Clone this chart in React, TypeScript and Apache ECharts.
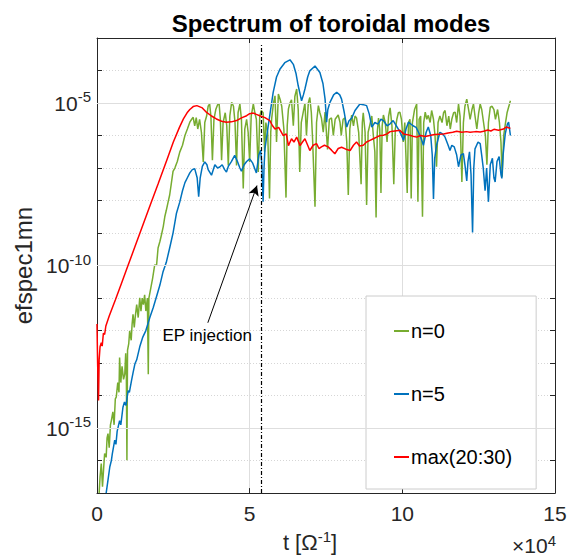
import React, { useEffect, useRef } from "react";
import * as echarts from "echarts";

const FONT = "'Liberation Sans', Arial, Helvetica, sans-serif";

// t in units of 1e4 [Omega^-1], values are log10(efspec1mn)
const seriesNames = ["n=0", "n=5", "max(20:30)"];
const seriesColors = ["#77AC30", "#0072BD", "#FF0000"];
const xTicks = [0, 5, 10, 15];
const yMajorExponents = [-5, -10, -15];
const injectionTime = 5.38;

const n0Points: [number, number][] = [
  [0.07,-17.0],[0.1,-16.5],[0.14,-16.09],[0.18,-16.8],[0.22,-16.2],[0.25,-15.78],[0.3,-15.9],[0.33,-15.3],[0.36,-15.17],[0.4,-15.6],
  [0.44,-14.9],[0.47,-14.77],[0.52,-14.5],[0.56,-14.9],[0.6,-14.1],[0.63,-14.05],[0.68,-13.6],[0.72,-13.9],[0.74,-12.83],[0.78,-13.6],
  [0.82,-13.1],[0.87,-13.5],[0.91,-13.34],[0.94,-12.7],[0.96,-13.2],[0.98,-15.99],[1.0,-12.6],[1.04,-12.4],[1.07,-12.01],[1.12,-12.3],
  [1.15,-11.8],[1.18,-11.5],[1.22,-11.9],[1.25,-11.6],[1.3,-11.2],[1.35,-11.6],[1.4,-10.99],[1.44,-11.4],[1.48,-11.0],[1.52,-11.2],
  [1.56,-10.9],[1.6,-11.4],[1.65,-11.0],[1.68,-13.34],[1.7,-11.0],[1.76,-10.7],[1.82,-10.4],[1.89,-9.98],[1.95,-10.0],[2.0,-9.46],
  [2.06,-9.26],[2.11,-9.06],[2.17,-8.8],[2.22,-8.5],[2.27,-8.3],[2.33,-8.04],[2.38,-7.83],[2.43,-7.5],[2.49,-7.1],[2.55,-7.0],
  [2.63,-6.8],[2.71,-6.51],[2.8,-6.3],[2.88,-6.0],[2.96,-5.8],[3.04,-5.59],[3.1,-5.5],[3.15,-5.44],[3.2,-5.7],[3.25,-5.45],
  [3.3,-5.8],[3.36,-5.5],[3.42,-5.9],[3.48,-6.81],[3.53,-5.6],[3.59,-5.4],[3.64,-5.1],[3.69,-5.03],[3.73,-5.4],[3.78,-6.76],
  [3.83,-5.5],[3.89,-5.2],[3.95,-5.05],[4.0,-5.03],[4.04,-5.5],[4.08,-6.76],[4.13,-5.6],[4.2,-5.3],[4.25,-5.7],[4.3,-6.92],
  [4.35,-5.4],[4.41,-4.98],[4.47,-5.1],[4.52,-5.6],[4.57,-6.92],[4.62,-5.3],[4.68,-5.03],[4.73,-5.5],[4.79,-7.63],[4.84,-5.8],
  [4.9,-5.5],[4.95,-5.9],[5.0,-6.81],[5.05,-5.4],[5.12,-5.03],[5.17,-5.3],[5.22,-5.5],[5.28,-7.12],[5.33,-5.4],[5.38,-5.23],
  [5.44,-5.3],[5.49,-6.5],[5.53,-5.6],[5.59,-5.9],[5.65,-7.94],[5.69,-5.9],[5.72,-5.49],[5.78,-5.0],[5.83,-4.78],[5.88,-6.2],
  [5.94,-4.72],[6.0,-4.9],[6.05,-5.1],[6.12,-5.8],[6.19,-7.91],[6.23,-5.7],[6.27,-5.18],[6.32,-5.0],[6.37,-4.9],[6.43,-5.7],
  [6.48,-4.8],[6.54,-4.57],[6.59,-5.2],[6.64,-7.12],[6.69,-5.6],[6.75,-5.3],[6.81,-5.0],[6.86,-6.0],[6.92,-5.0],[6.97,-4.83],
  [7.02,-5.3],[7.06,-6.1],[7.14,-8.19],[7.19,-5.6],[7.25,-5.08],[7.3,-5.3],[7.35,-5.46],[7.41,-5.9],[7.47,-5.28],[7.55,-6.43],
  [7.61,-5.5],[7.68,-5.46],[7.74,-6.0],[7.8,-5.5],[7.9,-5.37],[7.96,-5.6],[8.0,-6.0],[8.06,-5.5],[8.12,-5.46],[8.18,-6.2],
  [8.23,-7.83],[8.28,-5.8],[8.34,-5.37],[8.4,-5.7],[8.45,-5.4],[8.5,-5.46],[8.57,-5.9],[8.65,-7.5],[8.69,-5.6],[8.72,-5.3],
  [8.78,-5.9],[8.83,-8.14],[8.88,-5.9],[8.94,-5.66],[9.0,-5.4],[9.05,-6.0],[9.1,-6.5],[9.14,-8.52],[9.18,-5.9],[9.22,-5.46],
  [9.26,-5.8],[9.3,-7.77],[9.34,-5.7],[9.38,-5.37],[9.44,-5.6],[9.5,-6.2],[9.55,-5.4],[9.6,-5.15],[9.66,-5.7],[9.72,-7.5],
  [9.77,-5.8],[9.82,-5.5],[9.87,-5.3],[9.92,-5.28],[9.97,-5.5],[10.03,-6.2],[10.08,-5.6],[10.16,-7.77],[10.2,-5.6],[10.25,-5.5],
  [10.29,-7.94],[10.33,-5.6],[10.4,-5.2],[10.47,-5.03],[10.51,-8.04],[10.55,-5.5],[10.6,-5.4],[10.66,-8.5],[10.7,-5.6],[10.75,-5.28],
  [10.8,-5.5],[10.85,-5.38],[10.91,-5.6],[10.96,-5.23],[11.02,-5.5],[11.07,-6.0],[11.12,-6.96],[11.17,-5.6],[11.23,-5.4],[11.3,-5.6],
  [11.35,-5.3],[11.4,-5.23],[11.46,-5.7],[11.52,-5.4],[11.57,-5.8],[11.62,-5.5],[11.68,-5.3],[11.73,-5.28],[11.78,-5.6],[11.84,-5.03],
  [11.89,-5.4],[11.95,-7.43],[12.0,-5.6],[12.05,-5.1],[12.11,-4.88],[12.17,-5.2],[12.22,-5.5],[12.28,-5.2],[12.33,-5.03],[12.38,-5.4],
  [12.44,-5.8],[12.5,-5.3],[12.55,-5.03],[12.6,-5.2],[12.66,-5.6],[12.72,-6.0],[12.77,-6.9],[12.82,-5.6],[12.88,-5.13],[12.94,-5.1],
  [13.0,-5.2],[13.05,-5.5],[13.12,-5.2],[13.18,-5.6],[13.23,-6.2],[13.27,-7.27],[13.32,-6.0],[13.38,-5.6],[13.43,-5.3],[13.48,-5.13],
  [13.54,-4.93],
];

const n5Points: [number, number][] = [
  [0.3,-17.0],[0.36,-16.6],[0.42,-16.19],[0.47,-16.0],[0.5,-15.8],[0.58,-15.37],[0.62,-15.5],[0.66,-15.1],[0.74,-14.77],[0.78,-14.9],
  [0.85,-14.36],[0.9,-14.2],[0.95,-14.3],[1.02,-13.85],[1.06,-13.9],[1.13,-13.54],[1.18,-13.3],[1.24,-13.03],[1.3,-12.9],[1.4,-12.5],
  [1.5,-12.2],[1.6,-12.0],[1.73,-11.6],[1.84,-11.3],[1.95,-10.95],[2.06,-10.6],[2.16,-10.2],[2.27,-9.9],[2.38,-9.46],[2.49,-9.0],
  [2.6,-8.4],[2.71,-8.05],[2.8,-7.7],[2.88,-7.45],[2.96,-7.3],[3.04,-7.15],[3.12,-7.05],[3.2,-7.02],[3.28,-7.3],[3.33,-7.88],
  [3.38,-7.3],[3.45,-6.95],[3.53,-6.81],[3.6,-6.9],[3.64,-7.05],[3.75,-7.22],[3.86,-6.9],[3.95,-7.0],[4.02,-6.97],[4.1,-6.9],
  [4.18,-7.05],[4.24,-7.12],[4.3,-6.95],[4.4,-6.8],[4.51,-6.61],[4.6,-6.8],[4.68,-7.0],[4.73,-7.1],[4.82,-6.9],[4.9,-6.8],
  [5.0,-6.72],[5.1,-6.85],[5.22,-7.15],[5.3,-6.6],[5.36,-6.45],[5.4,-6.9],[5.44,-8.04],[5.47,-7.0],[5.5,-6.41],[5.61,-5.69],
  [5.77,-4.67],[5.88,-4.2],[5.99,-3.96],[6.15,-3.76],[6.32,-3.67],[6.43,-3.81],[6.52,-4.1],[6.59,-4.47],[6.7,-4.93],[6.76,-4.75],
  [6.81,-4.57],[6.9,-4.2],[6.97,-4.01],[7.14,-3.86],[7.3,-4.06],[7.4,-4.4],[7.47,-4.88],[7.52,-5.59],[7.56,-5.2],[7.63,-4.98],
  [7.75,-4.75],[7.85,-4.67],[7.95,-4.75],[8.01,-4.88],[8.1,-5.3],[8.18,-5.74],[8.25,-5.55],[8.35,-5.45],[8.45,-5.23],[8.61,-5.03],
  [8.72,-5.05],[8.83,-5.08],[8.92,-5.35],[9.0,-5.74],[9.1,-5.6],[9.2,-5.65],[9.3,-5.5],[9.38,-5.54],[9.5,-5.7],[9.6,-5.64],
  [9.7,-5.54],[9.87,-5.8],[9.95,-5.95],[10.04,-6.15],[10.12,-5.8],[10.2,-5.59],[10.35,-5.7],[10.45,-5.75],[10.53,-5.9],[10.62,-6.1],
  [10.69,-6.3],[10.78,-5.9],[10.85,-5.74],[10.93,-6.0],[10.98,-6.6],[11.02,-7.95],[11.06,-6.7],[11.12,-6.3],[11.23,-5.9],[11.32,-5.95],
  [11.4,-6.05],[11.5,-6.3],[11.56,-6.46],[11.62,-6.3],[11.7,-6.35],[11.78,-6.6],[11.84,-6.96],[11.92,-6.6],[12.0,-6.56],[12.05,-6.9],
  [12.11,-7.4],[12.15,-6.8],[12.2,-6.5],[12.25,-7.2],[12.3,-8.98],[12.34,-7.0],[12.38,-6.41],[12.48,-6.2],[12.55,-6.25],[12.6,-6.61],
  [12.65,-7.0],[12.71,-7.7],[12.76,-7.0],[12.82,-8.04],[12.88,-6.9],[12.95,-6.7],[13.0,-7.3],[13.04,-7.43],[13.1,-6.8],[13.17,-6.65],
  [13.23,-7.2],[13.26,-7.32],[13.3,-6.6],[13.37,-5.95],[13.44,-5.65],[13.48,-5.59],[13.54,-6.0],
];

const maxPoints: [number, number][] = [
  [0,-11.8],[0.02,-13.0],[0.05,-14.15],[0.07,-12.9],[0.1,-12.5],[0.14,-12.37],[0.17,-12.48],[0.21,-12.08],[0.25,-12.12],[0.29,-11.86],
  [0.4,-11.55],[0.6,-11.06],[0.8,-10.55],[1.0,-10.04],[1.25,-9.4],[1.5,-8.76],[1.75,-8.12],[2.0,-7.49],[2.3,-6.72],[2.5,-6.2],
  [2.7,-5.75],[2.83,-5.49],[2.95,-5.3],[3.04,-5.2],[3.15,-5.11],[3.27,-5.08],[3.45,-5.15],[3.59,-5.29],[3.75,-5.4],[3.91,-5.49],
  [4.08,-5.56],[4.24,-5.59],[4.4,-5.58],[4.57,-5.54],[4.75,-5.45],[4.9,-5.39],[5.0,-5.33],[5.12,-5.31],[5.22,-5.35],[5.33,-5.39],
  [5.5,-5.45],[5.66,-5.54],[5.75,-5.7],[5.83,-5.8],[5.95,-5.75],[6.1,-6.0],[6.2,-5.95],[6.27,-6.31],[6.37,-6.1],[6.45,-6.2],
  [6.54,-6.05],[6.65,-6.31],[6.73,-6.2],[6.81,-6.1],[6.9,-6.3],[6.97,-6.46],[7.08,-6.3],[7.19,-6.25],[7.27,-6.4],[7.35,-6.35],
  [7.45,-6.3],[7.57,-6.35],[7.68,-6.45],[7.79,-6.56],[7.9,-6.4],[8.01,-6.36],[8.15,-6.42],[8.29,-6.46],[8.4,-6.3],[8.5,-6.2],
  [8.6,-6.32],[8.72,-6.3],[8.83,-6.2],[8.94,-6.15],[9.05,-6.1],[9.16,-6.05],[9.27,-6.0],[9.38,-5.99],[9.5,-5.95],[9.6,-5.88],
  [9.75,-5.86],[9.92,-5.84],[10.04,-5.95],[10.2,-5.98],[10.35,-6.02],[10.47,-6.05],[10.6,-6.0],[10.75,-6.03],[10.9,-6.0],[11.05,-5.97],
  [11.2,-5.96],[11.35,-5.95],[11.5,-5.92],[11.65,-5.9],[11.78,-5.87],[11.95,-5.9],[12.1,-5.88],[12.22,-5.9],[12.4,-5.88],[12.55,-5.89],
  [12.66,-5.87],[12.8,-5.83],[12.9,-5.86],[13.0,-5.81],[13.15,-5.84],[13.31,-5.8],[13.4,-5.74],[13.48,-5.76],[13.54,-5.78],
];

const arrowFrom: [number, number] = [3.63, -11.76];
const arrowTo: [number, number] = [5.24, -7.54];
const annotationAt: [number, number] = [3.61, -12.16];
const annotationText = "EP injection";

export default function App() {
  const ref = useRef<HTMLDivElement>(null);

  useEffect(() => {
    if (!ref.current) return;
    const chart = echarts.init(ref.current, null, { renderer: "svg" });
    const axisColor = "#262626";
    const gridColor = "#dedede";
    const yMin = -17;
    const yMax = -3;

    const baseX = {
      type: "value",
      min: 0,
      max: 15,
      interval: 5,
      axisLine: { show: true, onZero: false, lineStyle: { color: axisColor, width: 1 } },
      axisTick: { show: true, inside: true, length: 5, lineStyle: { color: axisColor } },
    };
    const baseY = {
      type: "value",
      min: yMin,
      max: yMax,
      interval: 1,
      axisLine: { show: true, onZero: false, lineStyle: { color: axisColor, width: 1 } },
      axisTick: { show: true, inside: true, length: 5, lineStyle: { color: axisColor } },
    };

    const dataSeries = [n0Points, n5Points, maxPoints].map((pts, i) => ({
      name: seriesNames[i],
      type: "line",
      data: pts,
      showSymbol: false,
      symbol: "none",
      lineStyle: { color: seriesColors[i], width: 1.5 },
      itemStyle: { color: seriesColors[i] },
      z: 3 + i,
      silent: true,
    }));

    const option: any = {
      animation: false,
      backgroundColor: "#ffffff",
      textStyle: { fontFamily: FONT },
      title: {
        text: "Spectrum of toroidal modes",
        left: 326,
        top: 6,
        textAlign: "center",
        textStyle: { fontSize: 24, fontWeight: "bold", color: "#000", fontFamily: FONT },
      },
      grid: { left: 97, right: 17, top: 38, bottom: 62, containLabel: false },
      xAxis: [
        {
          ...baseX,
          position: "bottom",
          name: "{a|t [Ω}{s|-1}{a|]}",
          nameLocation: "middle",
          nameGap: 18,
          nameTextStyle: {
            padding: [0, 32, 0, 0],
            rich: {
              a: { fontSize: 22, color: axisColor, fontFamily: FONT, lineHeight: 26 },
              s: { fontSize: 15, color: axisColor, fontFamily: FONT, verticalAlign: "top", lineHeight: 15 },
            },
          },
          axisLabel: {
            show: true,
            fontSize: 21,
            color: axisColor,
            fontFamily: FONT,
            margin: 10,
            formatter: (v: number) => (xTicks.includes(v) ? String(v) : ""),
          },
          splitLine: { show: true, lineStyle: { color: gridColor, width: 1, type: "solid" } },
        },
        {
          ...baseX,
          position: "top",
          axisLabel: { show: false },
          splitLine: { show: false },
        },
      ],
      yAxis: [
        {
          ...baseY,
          position: "left",
          name: "efspec1mn",
          nameLocation: "middle",
          nameRotate: 90,
          nameGap: 57,
          nameTextStyle: { fontSize: 24, color: axisColor, fontFamily: FONT },
          axisLabel: {
            show: true,
            margin: 6,
            formatter: (v: number) => (yMajorExponents.includes(v) ? `{b|10}{s|${v}}` : ""),
            rich: {
              b: { fontSize: 21, color: axisColor, fontFamily: FONT, lineHeight: 28 },
              s: { fontSize: 15, color: axisColor, fontFamily: FONT, verticalAlign: "top", lineHeight: 15 },
            },
          },
          splitLine: { show: true, lineStyle: { color: "#d6d6d6", width: 1, type: [1, 2] } },
        },
        {
          ...baseY,
          position: "right",
          axisLabel: { show: false },
          splitLine: { show: false },
        },
      ],
      legend: {
        orient: "vertical",
        left: 366,
        top: 296,
        padding: [25, 24, 22, 28],
        itemGap: 43,
        itemWidth: 15,
        itemHeight: 2,
        icon: "rect",
        backgroundColor: "#ffffff",
        borderColor: "#cccccc",
        borderWidth: 1,
        borderRadius: 0,
        selectedMode: false,
        data: seriesNames,
        textStyle: { fontSize: 20, color: "#000", fontFamily: FONT, lineHeight: 20, padding: [0, 0, 0, -3] },
      },
      graphic: [
        {
          type: "text",
          right: 16,
          top: 533,
          style: {
            text: "{a|×10}{s|4}",
            rich: {
              a: { fontSize: 21, fill: axisColor, fontFamily: FONT, lineHeight: 25 },
              s: { fontSize: 15, fill: axisColor, fontFamily: FONT, verticalAlign: "top", lineHeight: 15 },
            },
          },
        },
      ],
      series: [
        {
          name: "major-grid",
          type: "line",
          data: [],
          z: 1,
          silent: true,
          markLine: {
            silent: true,
            symbol: ["none", "none"],
            label: { show: false },
            lineStyle: { color: gridColor, width: 1, type: "solid" },
            data: yMajorExponents.map((e) => ({ yAxis: e })),
          },
        },
        ...dataSeries,
        {
          name: "injection",
          type: "line",
          data: [],
          z: 10,
          silent: true,
          markLine: {
            silent: true,
            symbol: ["none", "none"],
            label: { show: false },
            lineStyle: { color: "#000", width: 1.2, type: [4, 2, 1, 2] },
            data: [[{ coord: [injectionTime, yMin] }, { coord: [injectionTime, -3.2] }]],
          },
        },
        {
          name: "annotation",
          type: "line",
          data: [],
          z: 10,
          silent: true,
          markLine: {
            silent: true,
            symbol: ["none", "arrow"],
            symbolSize: [8, 10],
            label: { show: false },
            lineStyle: { color: "#000", width: 1, type: "solid" },
            data: [[{ coord: arrowFrom }, { coord: arrowTo }]],
          },
          markPoint: {
            silent: true,
            symbol: "circle",
            symbolSize: 0,
            label: {
              show: true,
              position: "inside",
              formatter: annotationText,
              fontSize: 17,
              color: "#000",
              fontFamily: FONT,
            },
            data: [{ coord: annotationAt }],
          },
        },
      ],
    };

    chart.setOption(option);
    return () => chart.dispose();
  }, []);

  return (
    <div
      ref={ref}
      style={{ position: "fixed", left: 0, top: 0, width: 572, height: 558, background: "#fff" }}
    />
  );
}
